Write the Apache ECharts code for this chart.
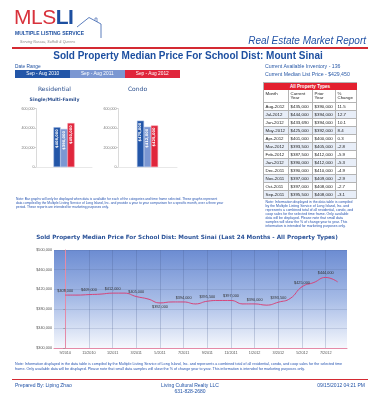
<!DOCTYPE html>
<html>
<head>
<meta charset="utf-8">
<script src="https://cdn.jsdelivr.net/npm/echarts@6/dist/echarts.min.js"></script>
<style>
body{margin:0;background:#fff;font-family:"Liberation Sans",Arial,sans-serif;}
#page{position:relative;width:376px;height:400px;overflow:hidden;background:#fff}
#chart{position:absolute;left:0;top:0;width:376px;height:400px}
.t{position:absolute;white-space:nowrap;line-height:1}
.c{transform:translateX(-50%)}
.r{transform:translateX(-100%)}
.note{position:absolute;white-space:nowrap;color:#2452b0}
.cell{position:absolute;box-sizing:border-box;border-right:1px solid #b4b4b4;border-bottom:1px solid #b4b4b4;padding-left:1.5px;color:#222;overflow:hidden;white-space:nowrap}
</style>
</head>
<body>
<div id="page">
  <div id="chart"></div>

  <!-- header -->
  <div class="t" style="left:14px;top:6px;font-size:21px;letter-spacing:-0.5px"><span style="color:#d8323c">MLS</span><span style="color:#1d4fa0;font-weight:bold">LI</span></div>
  <svg style="position:absolute;left:0;top:0" width="120" height="50">
    <polyline points="77,27 89,17.5 101,24 101,38" fill="none" stroke="#4a6fb5" stroke-width="0.9"/>
    <polyline points="95,20.5 95,18 97,18 97,22" fill="none" stroke="#4a6fb5" stroke-width="0.7"/>
  </svg>
  <div class="t" style="left:15px;top:31px;font-size:5px;font-weight:bold;color:#1d4fa0">MULTIPLE LISTING SERVICE</div>
  <div class="t" style="left:20px;top:40.5px;font-size:3.6px;font-style:italic;color:#8a8a8a">Serving Nassau, Suffolk &amp; Queens</div>
  <div class="t r" style="left:366px;top:35.5px;font-size:10px;font-style:italic;color:#2152a6">Real Estate Market Report</div>
  <div style="position:absolute;left:12px;top:47px;width:356px;height:1.5px;background:#d42a32"></div>
  <div class="t c" style="left:188px;top:51px;font-size:10px;font-weight:bold;color:#1d4fa0">Sold Property Median Price For School Dist: Mount Sinai</div>

  <!-- legend -->
  <div class="t" style="left:15px;top:64.5px;font-size:4.8px;color:#1d4fa0">Date Range</div>
  <div id="legend"></div>

  <div class="t" style="left:265px;top:64px;font-size:5.2px;color:#2a5aa8">Current Available Inventory - 136</div>
  <div class="t" style="left:265px;top:71.5px;font-size:5.2px;color:#2a5aa8">Current Median List Price - $429,450</div>

  <!-- bar chart titles -->
  <div class="t c" style="left:54.5px;top:85.5px;font-size:6px;font-family:'DejaVu Sans';color:#2b4f8e">Residential</div>
  <div class="t c" style="left:137.5px;top:85.5px;font-size:6px;font-family:'DejaVu Sans';color:#2b4f8e">Condo</div>
  <div class="t c" style="left:54.5px;top:97.5px;font-size:4.6px;font-family:'DejaVu Sans';font-weight:bold;color:#2b4f8e">Single/Multi-Family</div>

  <!-- table -->
  <div id="table" style="position:absolute;left:263px;top:81.5px;width:94px;height:117px;box-sizing:border-box;border-left:1px solid #b4b4b4;border-top:1px solid #b4b4b4"></div>

  <div class="note" style="left:16px;top:196.5px;font-size:3.3px;line-height:4.2px">Note: Bar graphs will only be displayed when data is available for each of the categories and time frame selected. These graphs represent<br>data compiled by the Multiple Listing Service of Long Island, Inc. and provide a year to year comparison for a specific month, over a three year<br>period. These reports are intended for marketing purposes only.</div>
  <div class="note" style="left:265.5px;top:199.5px;font-size:3.5px;line-height:4.05px">Note: Information displayed in the data table is compiled<br>by the Multiple Listing Service of Long Island, Inc. and<br>represents a combined total of all residential, condo, and<br>coop sales for the selected time frame. Only available<br>data will be displayed. Please note that small data<br>samples will skew the % of change year to year. This<br>information is intended for marketing purposes only.</div>

  <div class="t c" style="left:187px;top:235.3px;font-size:5.7px;font-family:'DejaVu Sans';font-weight:bold;color:#2a5298">Sold Property Median Price For School Dist: Mount Sinai (Last 24 Months - All Property Types)</div>

  <div class="note" style="left:15px;top:361.5px;font-size:3.7px;line-height:5px">Note: Information displayed in the data table is compiled by the Multiple Listing Service of Long Island, Inc. and represents a combined total of all residential, condo, and coop sales for the selected time<br>frame. Only available data will be displayed. Please note that small data samples will skew the % of change year to year. This information is intended for marketing purposes only.</div>

  <!-- footer -->
  <div style="position:absolute;left:12px;top:378.5px;width:356px;height:1.2px;background:#d42a32"></div>
  <div class="t" style="left:15px;top:382.5px;font-size:5px;color:#2152a6">Prepared By: Liping Zhao</div>
  <div class="t c" style="left:190px;top:382.5px;font-size:5px;color:#2152a6">Living Cultural Realty LLC</div>
  <div class="t c" style="left:190px;top:388.5px;font-size:5px;color:#2152a6">631-828-2680</div>
  <div class="t r" style="left:365px;top:382.5px;font-size:5px;color:#2152a6">09/15/2012 04:21 PM</div>
</div>

<script>
// bar charts
var seriesNames = ['Sep - Aug 2010', 'Sep - Aug 2011', 'Sep - Aug 2012'];
var barColors = ['#2356a8', '#7b97d2', '#e0263c'];
var residentialValues = [408000, 390000, 450000];
var condoValues = [475000, 412000, 425000];

// table
var tableMonths = ['Aug-2012','Jul-2012','Jun-2012','May-2012','Apr-2012','Mar-2012','Feb-2012','Jan-2012','Dec-2011','Nov-2011','Oct-2011','Sep-2011'];
var currentYear = ['$435,000','$444,000','$433,690','$425,000','$401,000','$393,500','$387,500','$390,000','$390,000','$397,000','$397,000','$395,500'];
var priorYear = ['$390,000','$394,000','$394,000','$392,000','$400,000','$405,000','$412,000','$412,000','$410,000','$409,000','$408,000','$408,000'];
var pctChange = ['11.5','12.7','10.1','8.4','0.3','-2.8','-5.9','-5.3','-4.9','-2.9','-2.7','-3.1'];

// line chart, 9/2010 .. 8/2012
var months = ['9/2010','10/2010','11/2010','12/2010','1/2011','2/2011','3/2011','4/2011','5/2011','6/2011','7/2011','8/2011',
              '9/2011','10/2011','11/2011','12/2011','1/2012','2/2012','3/2012','4/2012','5/2012','6/2012','7/2012','8/2012'];
var medianPrices = [408000,408000,409000,410000,412000,412000,405000,400000,392000,394000,394000,390000,
                    395500,397000,397000,390000,390000,387500,393500,401000,425000,433690,444000,435000];
var yTicks = [300000, 340000, 380000, 420000, 460000, 500000];
var xTicks = [0, 2, 4, 6, 8, 10, 12, 14, 16, 18, 20, 22];

// legend boxes
var legendLefts = [15, 70, 124.5];
var lg = document.getElementById('legend');
seriesNames.forEach(function (n, i) {
    var d = document.createElement('div');
    d.style.cssText = 'position:absolute;top:70.3px;height:8px;left:' + legendLefts[i] + 'px;width:' + (i == 1 ? 54.5 : 55.5) + 'px;background:' + barColors[i] +
        ';color:#fff;font-size:4.8px;line-height:8px;text-align:center';
    d.innerText = n;
    lg.appendChild(d);
});

// table
var tb = document.getElementById('table');
var colW = [25, 24, 23, 21];
var rowH = 8.05;
function cell(txt, x, y, w, h, extra) {
    var d = document.createElement('div');
    d.className = 'cell';
    d.style.cssText = 'left:' + x + 'px;top:' + y + 'px;width:' + w + 'px;height:' + h + 'px;' + (extra || '');
    d.innerHTML = txt;
    tb.appendChild(d);
}
cell('All Property Types', 0, 0, 93, 7.5, 'background:#e3202f;color:#fff;font-size:4.6px;font-weight:bold;text-align:center;line-height:7px;padding:0;border-color:#e3202f');
var heads = ['Month', 'Current<br>Year', 'Prior<br>Year', '%<br>Change'];
var x = 0;
heads.forEach(function (h, j) {
    cell(h, x, 7.5, colW[j], 12.5, 'font-size:4.4px;line-height:4.8px;padding-top:1.5px');
    x += colW[j];
});
tableMonths.forEach(function (m, i) {
    var vals = [m, currentYear[i], priorYear[i], pctChange[i]];
    var xx = 0;
    vals.forEach(function (v, j) {
        cell(v, xx, 20 + i * rowH, colW[j], rowH, 'font-size:4.4px;line-height:7.1px;background:' + (i % 2 ? '#e8eef8' : '#fff'));
        xx += colW[j];
    });
});

var money = function (v) { return '$' + echarts.format.addCommas(v); };

var chart = echarts.init(document.getElementById('chart'));

function barSeries(values, idx) {
    return seriesNames.map(function (n, i) {
        return {
            name: n, type: 'bar', xAxisIndex: idx, yAxisIndex: idx,
            barWidth: 7, barGap: '0%',
            data: [values[i]],
            itemStyle: { color: barColors[i], borderColor: i == 2 ? '#f27a8a' : '#9db2df', borderWidth: 0.5 },
            label: {
                show: true, position: 'insideTop', rotate: 90, align: 'right', verticalAlign: 'middle',
                distance: 2, fontSize: 3.6, fontWeight: 'bold', color: '#fff',
                fontFamily: 'DejaVu Sans', formatter: function (p) { return money(p.value); }
            }
        };
    });
}

var barY = function (i) {
    return {
        type: 'value', gridIndex: i, min: 0, max: 600000, interval: 200000,
        axisLine: { show: true, lineStyle: { color: '#d0d0d0', width: 0.8 } },
        axisTick: { show: true, length: 1.5, lineStyle: { color: '#bbb', width: 0.6 } },
        splitLine: { show: false },
        axisLabel: { fontSize: 3.6, color: '#777', margin: 1.5, fontFamily: 'Liberation Sans',
            formatter: function (v) { return echarts.format.addCommas(v); } }
    };
};
var barX = function (i) {
    return {
        type: 'category', gridIndex: i, data: [''],
        axisLine: { show: true, lineStyle: { color: '#e2e2e2', width: 0.8 } },
        axisTick: { show: false }, axisLabel: { show: false }
    };
};

var option = {
    animation: false,
    grid: [
        { left: 36, top: 108.5, width: 56, height: 58.5 },
        { left: 118, top: 108.5, width: 59, height: 58.5 },
        {
            left: 54, top: 250, width: 293, height: 98, show: true, borderWidth: 0,
            backgroundColor: new echarts.graphic.LinearGradient(0, 0, 0, 1, [
                { offset: 0, color: '#6c8cd2' },
                { offset: 0.5, color: '#a6bbe6' },
                { offset: 1, color: '#f6f8fd' }
            ])
        }
    ],
    xAxis: [barX(0), barX(1), {
        type: 'value', gridIndex: 2, min: -0.95, max: 23.8,
        axisLine: { show: true, lineStyle: { color: '#e58aa8', width: 1 } },
        axisTick: { show: false, customValues: xTicks },
        splitLine: { show: true, lineStyle: { color: 'rgba(70,90,140,0.35)', width: 0.7 } },
        axisLabel: { customValues: xTicks, fontSize: 3.8, color: '#555', margin: 3, fontFamily: 'Liberation Sans',
            formatter: function (v) { return months[Math.round(v)]; } }
    }],
    yAxis: [barY(0), barY(1), {
        type: 'value', gridIndex: 2, min: 300000, max: 500000,
        axisLine: { show: true, lineStyle: { color: '#e58aa8', width: 1 } },
        axisTick: { show: true, length: 2, customValues: yTicks, lineStyle: { color: '#888', width: 0.6 } },
        splitLine: { show: true, lineStyle: { color: 'rgba(70,90,140,0.25)', width: 0.7 } },
        axisLabel: { customValues: yTicks, fontSize: 3.8, color: '#555', margin: 2, fontFamily: 'Liberation Sans',
            formatter: money }
    }],
    series: barSeries(residentialValues, 0).concat(barSeries(condoValues, 1)).concat([{
        type: 'line', xAxisIndex: 2, yAxisIndex: 2,
        smooth: 0.5, showSymbol: true, showAllSymbol: true, symbol: 'circle', symbolSize: 0.5,
        itemStyle: { color: '#d6457a' },
        lineStyle: { color: '#d6457a', width: 1 },
        data: medianPrices.map(function (v, i) {
            return { value: [i, v], label: { show: i % 2 == 0, position: v == 392000 ? 'bottom' : 'top' } };
        }),
        label: {
            show: true, fontSize: 3.8, color: '#333', distance: 2, fontFamily: 'Liberation Sans',
            formatter: function (p) { return money(p.value[1]); }
        }
    }])
};
chart.setOption(option);
</script>
</body>
</html>
